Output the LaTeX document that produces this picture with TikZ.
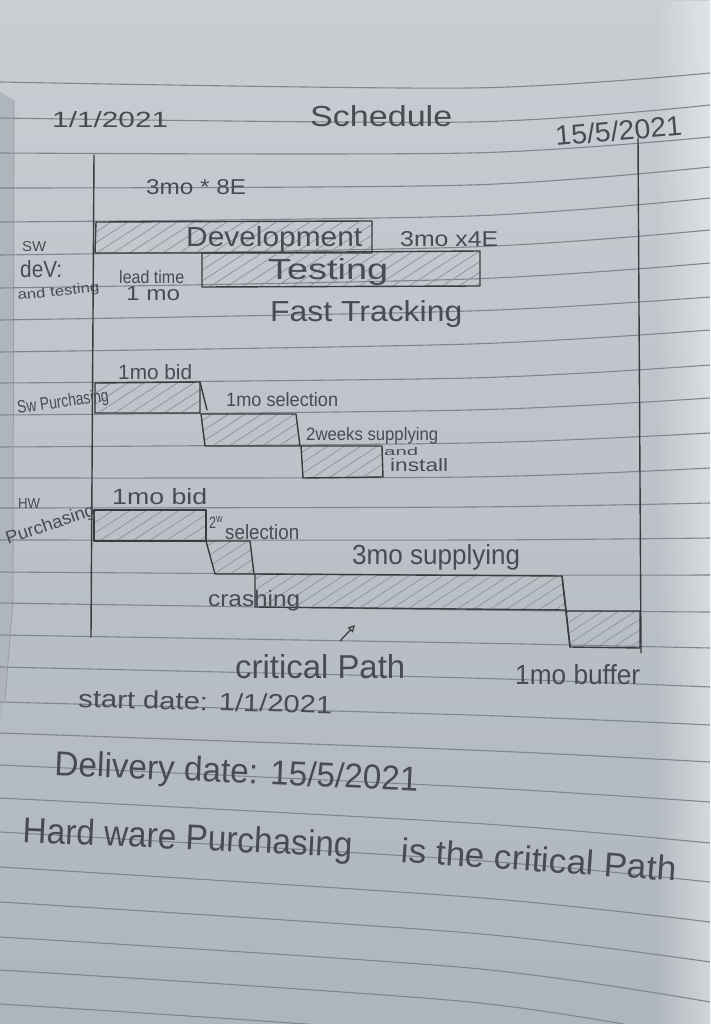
\documentclass[tikz,border=0pt]{standalone}
\usepackage{fontspec}
\usepackage{graphicx}
\setmainfont{Liberation Sans}
\usetikzlibrary{patterns.meta,arrows.meta,fadings}

\definecolor{paperTop}{HTML}{C9CED3}
\definecolor{paperBot}{HTML}{AEB5BC}
\definecolor{ruleC}{HTML}{7F868D}
\definecolor{pencilC}{HTML}{383C41}
\definecolor{hatchC}{HTML}{8A9197}
\definecolor{inkC}{HTML}{474C52}
\definecolor{edgeC}{HTML}{AEB5BB}

% handwritten label stretched to a given width and height (in pt)
\newcommand{\hw}[3]{\resizebox{#1pt}{#2pt}{#3}}

\tikzset{
  ruleline/.style={draw=ruleC, line width=1.1pt},
  pencilline/.style={draw=pencilC, line width=1.4pt, line join=round, line cap=round},
  barbox/.style={pencilline, pattern={Lines[angle=33,distance=9pt,line width=0.7pt]}, pattern color=hatchC},
  lbl/.style={inner sep=0pt, anchor=base west, text=inkC}
}

\begin{document}
\begin{tikzpicture}[x=1pt,y=-1pt]
\useasboundingbox (0,0) rectangle (710,1024);

% paper
\fill[top color=paperTop, bottom color=paperBot] (0,0) rectangle (710,1024);
\fill[white, path fading=west, opacity=0.45] (655,0) rectangle (710,1024);
\fill[edgeC] (0,92) -- (14,100) -- (13,600) -- (5,700) -- (0,720) -- cycle;
\draw[draw=ruleC!80, line width=0.8pt] (14,100) -- (13,600) -- (5,700);

% ruled lines of the notebook page
\foreach \a/\b/\c in {82/88/73, 118/122/105, 153/153/137, 188/185/167, 222/216/198,
  255/247/230, 288/279/263, 320/311/297, 352/344/330, 383/378/365, 415/410/398,
  447/443/433, 478/477/468, 508/507/503, 540/540/538, 572/575/575, 603/610/612,
  635/643/648, 667/678/687, 702/715/725, 733/750/762, 765/787/802, 798/823/843,
  832/860/882, 867/897/922, 902/933/962, 937/968/1002, 970/1002/1040, 1004/1037/1078}
  \draw[ruleline] plot[smooth] coordinates {(0,\a) (470,\b) (710,\c)};

% frame of the chart
\coordinate (fTL) at (94,155);
\coordinate (fBL) at (91,637);
\coordinate (fTR) at (638,138);
\coordinate (fBR) at (641,653);
\draw[pencilline] (fTL) -- (fBL);
\draw[pencilline] (fTR) -- (fBR);

% SW development and testing
\path[barbox] (96,222) -- (372,221) -- (372,253) -- (95,253) -- cycle;
\path[barbox] (202,253) -- (480,251) -- (480,286) -- (202,287) -- cycle;

% SW purchasing
\path[barbox] (95,383) -- (200,382) -- (200,413) -- (95,413) -- cycle;
\draw[pencilline] (200,382) -- (207,410);
\path[barbox] (201,414) -- (296,414) -- (300,446) -- (205,446) -- cycle;
\path[barbox] (301,446) -- (382,446) -- (383,477) -- (303,478) -- cycle;

% HW purchasing
\path[barbox] (94,510) -- (206,510) -- (206,541) -- (94,541) -- cycle;
\path[barbox] (206,541) -- (250,541) -- (254,574) -- (215,574) -- cycle;
\path[barbox] (255,574) -- (562,576) -- (566,610) -- (255,607) -- cycle;
\path[barbox] (566,611) -- (640,611) -- (640,648) -- (570,647) -- cycle;
\draw[pencilline] (562,576) -- (570,647);

% labels
\node[lbl] (dStart) at (52,128) {\hw{116}{16}{1/1/2021}};
\node[lbl] (title) at (310,127) {\hw{142}{21}{Schedule}};
\node[lbl, rotate=5] (dEnd) at (556,146) {\hw{127}{20}{15/5/2021}};

\node[lbl] (devRes) at (146,195) {\hw{100}{15}{3mo * 8E}};
\node[lbl] (devTxt) at (186,247) {\hw{176}{20}{Development}};
\node[lbl] (testRes) at (400,247) {\hw{98}{15}{3mo x4E}};
\node[lbl] (testTxt) at (268,279) {\hw{120}{21}{Testing}};
\node[lbl] (leadA) at (119,283) {\hw{65}{13}{lead time}};
\node[lbl] (leadB) at (126,300) {\hw{54}{14}{1 mo}};
\node[lbl] (fastTr) at (270,321) {\hw{192}{21}{Fast Tracking}};
\node[lbl] (rowA1) at (22,251) {\hw{24}{10}{SW}};
\node[lbl] (rowA2) at (20,277) {\hw{42}{17}{deV:}};
\node[lbl, rotate=6] (rowA3) at (18,300) {\hw{82}{10}{and testing}};

\node[lbl, rotate=8] (rowB) at (18,414) {\hw{92}{13}{Sw Purchasing}};
\node[lbl] (swBid) at (118,379) {\hw{74}{15}{1mo bid}};
\node[lbl] (swSel) at (226,406) {\hw{112}{14}{1mo selection}};
\node[lbl] (swSupA) at (306,440) {\hw{132}{13}{2weeks supplying}};
\node[lbl] (swSupB) at (384,455) {\hw{34}{8}{and}};
\node[lbl] (swSupC) at (390,471) {\hw{58}{13}{install}};

\node[lbl] (rowC1) at (18,508) {\hw{22}{10}{HW}};
\node[lbl, rotate=19] (rowC2) at (8,545) {\hw{93}{13}{Purchasing}};
\node[lbl] (hwBid) at (112,504) {\hw{95}{16}{1mo bid}};
\node[lbl] (hwSelA) at (209,528) {\hw{14}{12}{2\textsuperscript{w}}};
\node[lbl] (hwSelB) at (225,539) {\hw{74}{15}{selection}};
\node[lbl] (hwSup) at (352,564) {\hw{168}{20}{3mo supplying}};
\node[lbl] (crash) at (208,606) {\hw{92}{16}{crashing}};
\node[lbl] (cpTxt) at (235,678) {\hw{170}{24}{critical Path}};
\node[lbl] (buf) at (515,684) {\hw{125}{20}{1mo buffer}};

\node[lbl, rotate=-1.5] (start) at (78,707) {\hw{254}{18}{start date: 1/1/2021}};
\node[lbl, rotate=-2.5] (deliv) at (54,775) {\hw{364}{25}{Delivery date: 15/5/2021}};
\node[lbl, rotate=-2.7] (concA) at (22,842) {\hw{330}{26}{Hard ware Purchasing}};
\node[lbl, rotate=-4] (concB) at (400,862) {\hw{276}{25}{is the critical Path}};

% arrow pointing from the critical path note up to the supplying bar
\coordinate (cpTail) at (340,641);
\coordinate (cpHead) at (355,625);
\draw[pencilC, line width=1.2pt, -{Triangle[open,length=7pt,width=7pt]}] (cpTail) -- (cpHead);

\end{tikzpicture}
\end{document}
